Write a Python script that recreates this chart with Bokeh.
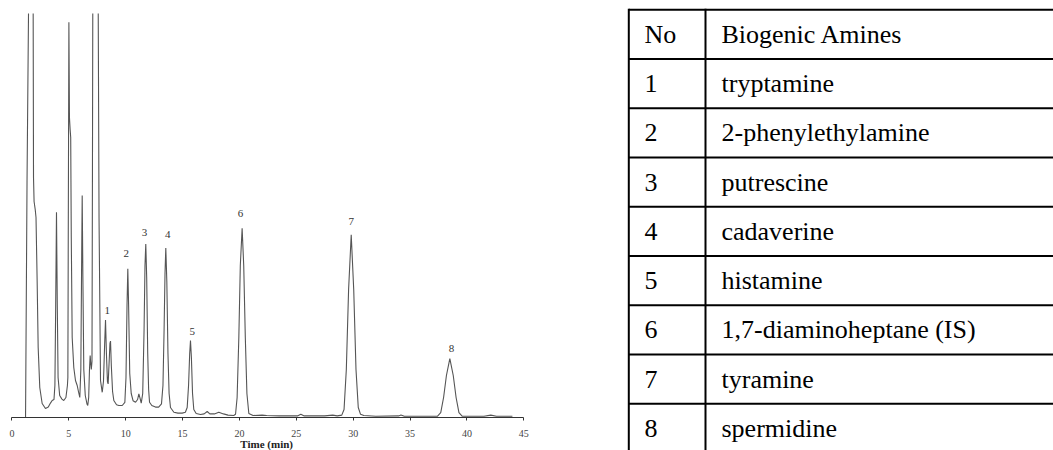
import numpy as np
from bokeh.plotting import figure
from bokeh.models import Range1d, FixedTicker, ColumnDataSource
from bokeh.embed import file_html
from bokeh.resources import INLINE
from bokeh.core.properties import value

NA = float("nan")   # trace leaves the top of the plotted scale (off-scale, not shown)

# ---- chromatogram trace (time in min, detector signal) ----
time_min = [1.20, 1.33, 1.46, 1.66, 1.87, 1.90, 1.95, 2.05, 2.12, 2.22, 2.31, 2.45, 2.66, 2.95, 3.20,
            3.39, 3.54, 3.70, 3.78, 3.85, 3.92, 3.99, 4.06, 4.20, 4.40, 4.56, 4.75, 4.88,
            4.92, 4.97, 5.01, 5.06, 5.12, 5.17, 5.22, 5.30, 5.44, 5.59, 5.74, 5.85, 5.97,
            6.06, 6.12, 6.18, 6.24, 6.32, 6.45, 6.60, 6.67, 6.75, 6.82, 6.88, 6.92, 6.98,
            7.04, 7.08, 7.11, 7.35, 7.59, 7.66, 7.79, 7.94, 8.05, 8.15, 8.23, 8.31, 8.40,
            8.46, 8.55, 8.62, 8.67, 8.74, 8.85, 8.96, 9.20, 9.40, 9.70, 9.93, 10.03, 10.12,
            10.19, 10.26, 10.36, 10.49, 10.65, 10.87, 11.05, 11.16, 11.27, 11.37, 11.50,
            11.62, 11.70, 11.77, 11.85, 11.94, 12.02, 12.10, 12.30, 12.62, 12.90, 13.15,
            13.28, 13.38, 13.46, 13.53, 13.62, 13.72, 13.82, 13.94, 14.24, 14.60, 14.97,
            15.25, 15.41, 15.53, 15.63, 15.70, 15.78, 15.88, 15.99, 16.20, 16.58, 16.90,
            17.17, 17.40, 17.80, 18.19, 18.60, 19.00, 19.50, 19.66, 19.80, 19.95, 20.08,
            20.24, 20.38, 20.52, 20.66, 20.83, 21.20, 22.00, 22.40, 23.50, 25.10, 25.40,
            25.70, 27.50, 28.20, 28.60, 29.00, 29.20, 29.40, 29.60, 29.83, 30.05, 30.25,
            30.45, 30.65, 30.94, 32.00, 34.00, 34.20, 34.50, 37.40, 37.70, 37.95, 38.20,
            38.50, 38.80, 39.05, 39.30, 39.60, 41.50, 42.10, 42.60, 44.00]
signal = [0.0, 59.0, 101.0, NA, 101.0, 60.0, 54.0, 52.0, 50.0, 34.0, 17.5, 7.5, 3.5, 2.25, 2.6,
          3.6, 4.25, 4.5, 8.0, 28.0, 51.3, 28.0, 10.0, 5.5, 4.6, 4.25, 5.0, 8.0,
          10.0, 60.0, 98.8, 75.0, 72.0, 70.0, 45.0, 20.0, 12.5, 9.25, 8.0, 6.5, 5.0,
          12.0, 35.0, 55.5, 35.0, 12.0, 5.5, 3.4, 3.0, 5.0, 12.0, 15.5, 14.0, 12.0,
          14.0, 60.0, 101.0, NA, 101.0, 50.0, 9.25, 6.3, 9.0, 18.0, 24.4, 16.0, 9.0,
          8.4, 14.0, 18.5, 19.1, 13.0, 6.5, 4.25, 3.2, 3.0, 3.0, 3.8, 10.0, 28.0,
          37.2, 28.0, 11.0, 6.0, 4.2, 3.8, 4.5, 5.9, 4.8, 3.6, 6.0,
          22.0, 38.0, 43.4, 35.0, 16.0, 7.0, 3.8, 3.0, 2.6, 2.6, 3.4,
          8.0, 22.0, 36.0, 42.4, 34.0, 16.0, 6.0, 2.5, 1.3, 1.1, 1.1,
          1.3, 2.5, 8.0, 16.0, 19.25, 15.0, 6.0, 2.0, 1.0, 0.75, 0.9,
          1.5, 0.9, 0.9, 1.3, 0.9, 0.6, 0.5, 0.8, 5.0, 20.0, 38.0,
          47.3, 38.0, 20.0, 6.0, 1.0, 0.5, 0.6, 0.5, 0.4, 0.4, 0.8,
          0.4, 0.4, 0.6, 0.4, 0.6, 2.0, 12.0, 32.0, 45.7, 32.0, 12.0,
          2.5, 0.8, 0.5, 0.3, 0.4, 0.6, 0.3, 0.3, 1.2, 5.0, 10.5,
          14.7, 10.5, 5.0, 1.2, 0.3, 0.3, 0.6, 0.3, 0.3]

# ---- peak number labels ----
peak_no = ["1", "2", "3", "4", "5", "6", "7", "8"]
peak_label_time = [8.38, 10.05, 11.66, 13.71, 15.85, 20.10, 29.83, 38.65]
peak_label_signal = [26.75, 41.1, 46.3, 45.75, 21.6, 51.1, 49.0, 17.25]

x_ticks = [0, 5, 10, 15, 20, 25, 30, 35, 40, 45]
x_label = "Time (min)"

# ---- table ----
table_header = ["No", "Biogenic Amines"]
amine_no = ["1", "2", "3", "4", "5", "6", "7", "8"]
amine_name = ["tryptamine", "2-phenylethylamine", "putrescine", "cadaverine",
              "histamine", "1,7-diaminoheptane (IS)", "tyramine", "spermidine"]

SERIF = "Liberation Serif"
W, H = 1053, 450
X0_PX, PX_PER_MIN = 11.4, 11.375     # time axis placement on the canvas
Y0_PX, PX_PER_UNIT = 417.0, 4.0      # signal axis placement on the canvas

p = figure(width=W, height=H, output_backend="svg", toolbar_location=None,
           x_range=Range1d(-X0_PX / PX_PER_MIN, (W - X0_PX) / PX_PER_MIN),
           y_range=Range1d(-(H - Y0_PX) / PX_PER_UNIT, Y0_PX / PX_PER_UNIT),
           y_axis_location=None,
           min_border_left=0, min_border_right=0, min_border_top=0, min_border_bottom=0)
p.outline_line_color = None
p.grid.visible = False
p.background_fill_color = "white"
p.border_fill_color = "white"
p.extra_x_ranges = {"px": Range1d(0, W)}
p.extra_y_ranges = {"py": Range1d(H, 0)}

# chromatogram
p.line(np.array(time_min), np.array(signal, dtype=float), line_color="#555555", line_width=1.1)

src = ColumnDataSource(dict(x=peak_label_time, y=peak_label_signal, t=peak_no))
p.text(x="x", y="y", text="t", source=src, text_font=value(SERIF),
       text_font_size="11px", text_align="center", text_baseline="middle",
       text_color="#333333")

ax = p.xaxis[0]
ax.fixed_location = 0
ax.bounds = (x_ticks[0], x_ticks[-1])
ax.ticker = FixedTicker(ticks=x_ticks)
ax.minor_tick_line_color = None
ax.major_tick_out = 3
ax.major_tick_in = 0
ax.axis_line_color = "#333333"
ax.major_tick_line_color = "#333333"
ax.major_label_text_font = SERIF
ax.major_label_text_font_size = "10px"
ax.major_label_text_color = "#444444"
ax.major_label_standoff = 9

p.text(x=[(x_ticks[0] + x_ticks[-1]) / 2 - 0.1], y=[-5.0], text=[x_label],
       text_font=value(SERIF), text_font_size="11px", text_font_style="bold",
       text_align="center", text_baseline="top", text_color="#222222")

# table (drawn in canvas pixel coordinates)
x_left, x_div, x_right = 628.3, 705.0, W + 2
y_top, row_h = 9.3, 49.25
n_rows = len(amine_no) + 1
hy = [y_top + i * row_h for i in range(n_rows)]
p.segment(x0=[x_left] * n_rows, y0=hy, x1=[x_right] * n_rows, y1=hy,
          line_color="black", line_width=2, x_range_name="px", y_range_name="py")
p.segment(x0=[x_left, x_div], y0=[y_top - 1, y_top - 1], x1=[x_left, x_div], y1=[H + 2, H + 2],
          line_color="black", line_width=2, x_range_name="px", y_range_name="py")

col1 = [table_header[0]] + amine_no
col2 = [table_header[1]] + amine_name
base_y = [y_top + i * row_h + 24.5 for i in range(n_rows)]
p.text(x=[644] * n_rows, y=base_y, text=col1, text_font=value(SERIF),
       text_font_size="26px", text_baseline="alphabetic", text_color="black",
       x_range_name="px", y_range_name="py")
p.text(x=[721] * n_rows, y=base_y, text=col2, text_font=value(SERIF),
       text_font_size="26px", text_baseline="alphabetic", text_color="black",
       x_range_name="px", y_range_name="py")

open("out.html", "w").write(file_html(p, INLINE))
